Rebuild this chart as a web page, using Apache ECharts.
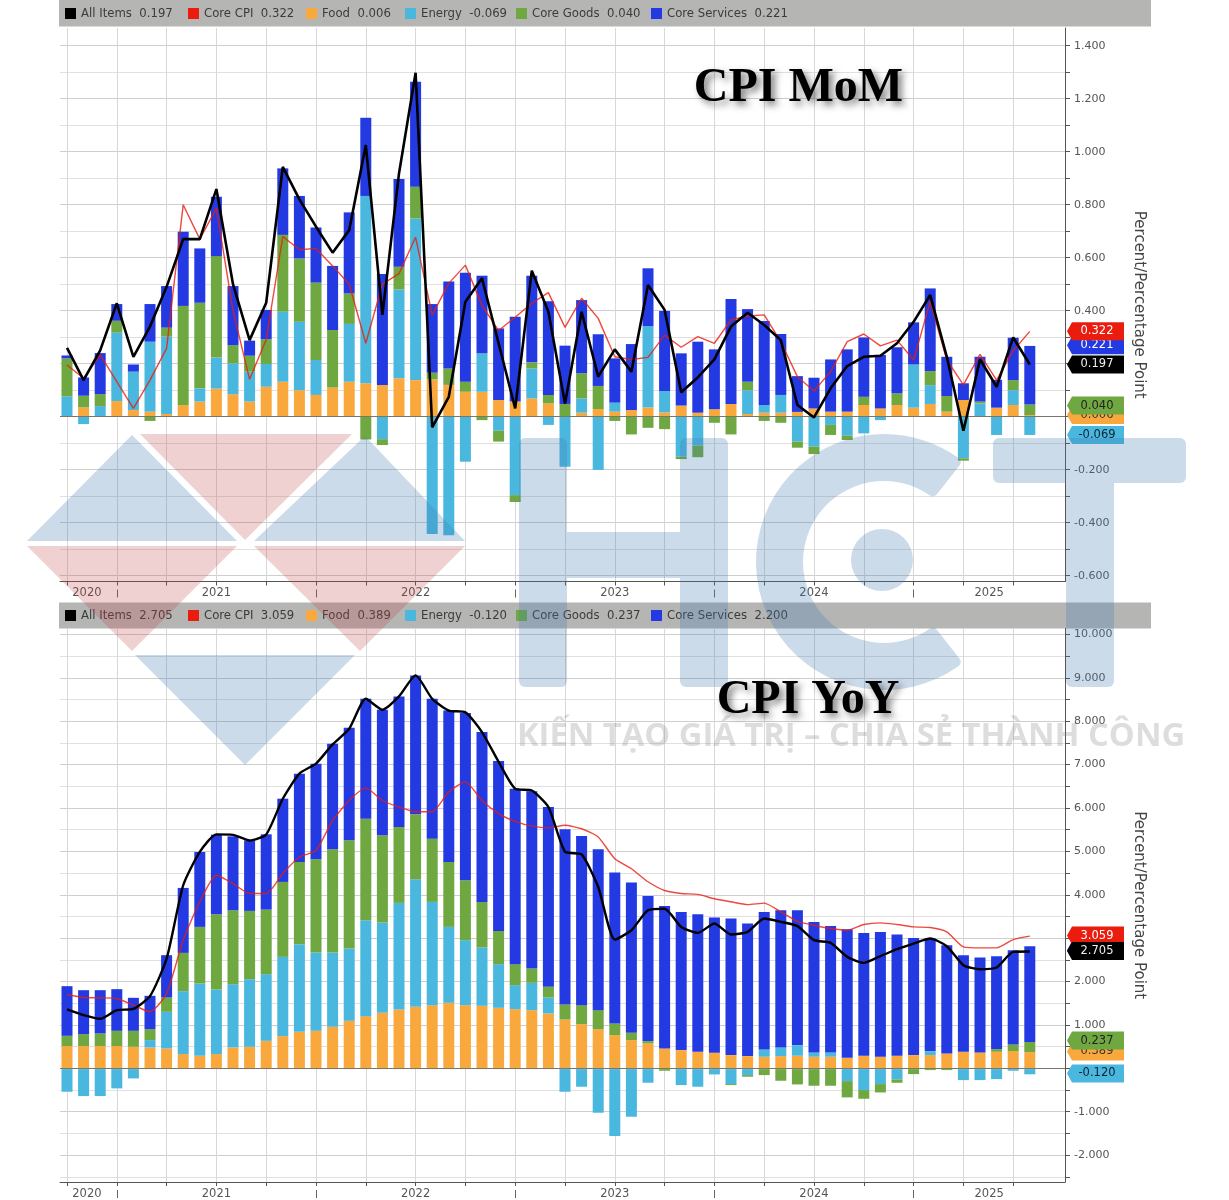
<!DOCTYPE html>
<html><head><meta charset="utf-8">
<style>html,body{margin:0;padding:0;background:#fff}#c{width:1229px;height:1200px;filter:blur(0.45px)}</style>
<script src="https://cdn.jsdelivr.net/npm/echarts@6/dist/echarts.min.js"></script>
</head><body><div id="c"></div>
<script>
const seriesNames=['All Items','Core CPI','Food','Energy','Core Goods','Core Services'];
const colors={'All Items':'#000000','Core CPI':'#ea1c0e','Food':'#f9a83e','Energy':'#4ab7df','Core Goods':'#6fa841','Core Services':'#2339e2'};
const momLegend=['0.197','0.322','0.006','-0.069','0.040','0.221'];
const yoyLegend=['2.705','3.059','0.389','-0.120','0.237','2.200'];
const legendLefts=[65,188,306,405,516,651];
const yearLabels=['2020','2021','2022','2023','2024','2025'];
const yearLabelAt=[1.2,9,21,33,45,55.55];
const yearBounds=[3,15,27,39,51];
const quarterTicks=[0,3,6,9,12,15,18,21,24,27,30,33,36,39,42,45,48,51,54,57];
const months=['m0','m1','m2','m3','m4','m5','m6','m7','m8','m9','m10','m11','m12','m13','m14','m15','m16','m17','m18','m19','m20','m21','m22','m23','m24','m25','m26','m27','m28','m29','m30','m31','m32','m33','m34','m35','m36','m37','m38','m39','m40','m41','m42','m43','m44','m45','m46','m47','m48','m49','m50','m51','m52','m53','m54','m55','m56','m57','m58','blank'];

const momFood=[0.002,0.035,0,0.059,0.025,0.019,0.01,0.044,0.057,0.106,0.085,0.057,0.113,0.132,0.10,0.082,0.11,0.132,0.126,0.12,0.145,0.138,0.141,0.12,0.094,0.094,0.063,0.057,0.069,0.05,0,0.015,0.029,0.019,0.025,0.035,0.016,0.042,0.015,0.028,0.048,0.01,0.015,0.015,0.018,0.031,0.019,0.019,0.044,0.031,0.044,0.034,0.048,0.019,0.063,0,0.034,0.044,0.006];
const momEnergy=[0.075,-0.028,0.04,0.258,0.145,0.264,0.292,0,0.05,0.117,0.116,0.113,0.086,0.264,0.258,0.132,0,0.218,0.707,-0.085,0.335,0.61,-0.443,-0.447,-0.17,0.145,-0.053,-0.296,0.113,-0.031,-0.189,0.054,-0.201,0.034,0,0.307,0.081,-0.151,-0.109,0,0,0.09,0.029,0.067,-0.094,-0.113,-0.031,-0.072,-0.063,-0.013,0,0.163,0.071,0,-0.157,0.05,-0.069,0.056,-0.069];
const momGoods=[0.143,0.044,0.045,0.045,0,-0.016,0.034,0.374,0.323,0.383,0.069,0.06,0.093,0.29,0.239,0.292,0.217,0.115,-0.086,-0.022,0.086,0.12,0.025,0.062,0.038,-0.013,-0.041,-0.026,0.023,0.032,0.048,0.095,0.087,-0.016,-0.067,-0.042,-0.047,-0.009,-0.044,-0.023,-0.067,0.032,-0.016,-0.023,-0.023,-0.028,-0.038,-0.016,0.031,0,0.044,0,0.053,0.059,-0.009,0.007,0,0.038,0.04];
const momServices=[0.011,0.069,0.155,0.063,0.027,0.142,0.157,0.28,0.205,0.224,0.223,0.057,0.111,0.251,0.236,0.208,0.242,0.306,0.295,0.418,0.331,0.396,0.259,0.328,0.411,0.293,0.27,0.32,0.327,0.354,0.22,0.276,0.195,0.167,0.249,0.218,0.302,0.197,0.268,0.226,0.396,0.274,0.317,0.23,0.135,0.116,0.197,0.235,0.224,0.202,0.174,0.159,0.312,0.148,0.063,0.169,0.105,0.16,0.221];
const momAll=[0.26,0.138,0.25,0.428,0.226,0.34,0.49,0.67,0.67,0.859,0.5,0.289,0.43,0.943,0.82,0.717,0.619,0.704,1.025,0.384,0.918,1.298,-0.04,0.075,0.434,0.522,0.277,0.031,0.551,0.396,0.05,0.396,0.151,0.254,0.17,0.497,0.403,0.092,0.148,0.216,0.34,0.392,0.346,0.289,0.044,-0.003,0.107,0.191,0.226,0.23,0.277,0.358,0.459,0.226,-0.053,0.216,0.113,0.299,0.197];
const momCore=[0.195,0.145,0.233,0.132,0.031,0.138,0.258,0.80,0.67,0.786,0.40,0.141,0.29,0.68,0.63,0.635,0.569,0.50,0.277,0.50,0.54,0.677,0.384,0.503,0.572,0.42,0.325,0.375,0.428,0.468,0.337,0.447,0.371,0.226,0.216,0.224,0.308,0.262,0.302,0.277,0.365,0.38,0.384,0.283,0.151,0.097,0.17,0.283,0.312,0.267,0.289,0.214,0.434,0.214,0.12,0.235,0.138,0.249,0.322];

const yoyFood=[0.529,0.529,0.529,0.529,0.513,0.498,0.475,0.345,0.307,0.345,0.498,0.513,0.651,0.759,0.858,0.881,0.973,1.111,1.218,1.295,1.372,1.433,1.471,1.525,1.471,1.456,1.41,1.379,1.356,1.28,1.142,1.034,0.92,0.782,0.667,0.59,0.475,0.437,0.398,0.375,0.322,0.299,0.284,0.299,0.307,0.284,0.284,0.26,0.307,0.284,0.307,0.322,0.322,0.36,0.398,0.383,0.398,0.414,0.389];
const yoyEnergy=[-0.521,-0.621,-0.621,-0.444,-0.215,0.169,0.843,1.448,1.662,1.486,1.456,1.556,1.533,1.823,2.016,1.801,1.709,1.663,2.207,2.077,2.452,2.935,2.376,1.747,1.495,1.341,1.004,0.552,0.629,0.368,-0.521,-0.406,-1.004,-1.54,-1.096,-0.314,0,-0.368,-0.406,-0.123,-0.345,-0.138,0.168,0.199,0.245,0.099,0.099,-0.276,-0.483,-0.345,-0.238,0,0.092,0,-0.253,-0.253,-0.23,-0.038,-0.12];
const yoyGoods=[0.237,0.276,0.291,0.352,0.368,0.253,0.329,0.881,1.303,1.732,1.701,1.571,1.486,1.725,1.892,2.146,2.375,2.49,2.337,2.007,1.747,1.494,1.456,1.494,1.379,1.05,0.766,0.483,0.329,0.245,0.345,0.437,0.436,0.268,0.168,0.054,-0.038,0,0,0,-0.023,-0.038,-0.138,-0.268,-0.353,-0.383,-0.383,-0.375,-0.199,-0.192,-0.077,-0.115,-0.023,-0.023,0,0,0.062,0.153,0.237];
const yoyServices=[1.142,1.011,0.996,0.958,0.759,0.766,0.974,1.495,1.724,1.832,1.701,1.624,1.732,1.915,2.031,2.199,2.43,2.59,2.759,2.889,3.004,3.195,3.218,3.487,3.847,3.908,3.908,4.038,4.077,4.137,4.03,3.893,3.701,3.471,3.456,3.341,3.28,3.18,3.165,3.112,3.142,3.05,3.165,3.157,3.103,3.004,2.912,2.958,2.827,2.873,2.789,2.697,2.59,2.491,2.223,2.184,2.138,2.169,2.2];
const yoyAll=[1.372,1.241,1.157,1.356,1.387,1.678,2.54,4.23,5.0,5.4,5.39,5.26,5.40,6.22,6.8,7.03,7.47,7.83,8.52,8.27,8.575,9.06,8.52,8.25,8.21,7.755,7.07,6.45,6.41,6.03,5.0,4.94,4.19,2.98,3.195,3.655,3.69,3.27,3.134,3.349,3.096,3.157,3.464,3.387,3.29,2.966,2.904,2.582,2.444,2.598,2.759,2.889,3.004,2.828,2.391,2.299,2.337,2.697,2.705];
const yoyCore=[1.716,1.648,1.64,1.625,1.471,1.318,1.74,2.97,3.85,4.46,4.27,4.04,4.04,4.5,4.88,5.03,5.72,6.18,6.47,6.18,6.03,5.92,5.92,6.38,6.61,6.18,5.88,5.70,5.59,5.55,5.61,5.53,5.34,4.84,4.61,4.31,4.11,4.04,4.02,3.92,3.85,3.785,3.82,3.62,3.4,3.31,3.234,3.195,3.326,3.364,3.326,3.272,3.257,3.157,2.812,2.789,2.789,2.98,3.059];

const momTickTenths=[-6,-5,-4,-3,-2,-1,0,1,2,3,4,5,6,7,8,9,10,11,12,13,14];
const momLabelTenths=[-6,-4,-2,2,4,6,8,10,12,14];
const yoyTickHalves=[-5,-4,-3,-2,-1,0,1,2,3,4,5,6,7,8,9,10,11,12,13,14,15,16,17,18,19,20];
const yoyLabelUnits=[-2,-1,1,2,3,4,5,6,7,8,9,10];

const tagOrder=['Food','Core Goods','Energy','Core Services','Core CPI','All Items'];
const momTagText=['0.006','0.040','-0.069','0.221','0.322','0.197'];
const momTagAt=[0.006,0.042,-0.069,0.270,0.322,0.197];
const yoyTagText=['0.389','0.237','-0.120','2.200','3.059','2.705'];
const yoyTagAt=[0.389,0.64,-0.12,2.72,3.059,2.705];
const tagInk=['#333','#222','#123','#fff','#fff','#eee'];

const X_MIN=-0.42, X_MAX=60.12;
const GRID_LINE='#d8d8d8', TEXT='#555', FONT='"DejaVu Sans",sans-serif';

function barSeries(name,data,gi){
  return {name,type:'bar',xAxisIndex:4+gi,yAxisIndex:2+gi,stack:'s'+gi,barWidth:11,
    itemStyle:{color:colors[name]},data,animation:false,z:2};
}
function lineSeries(name,data,gi,smooth,width){
  return {name,type:'line',xAxisIndex:4+gi,yAxisIndex:2+gi,data,symbol:'none',smooth,
    lineStyle:{color:colors[name],width,opacity:name==='Core CPI'?0.8:1},itemStyle:{color:colors[name]},animation:false,z:name==='Core CPI'?4:5};
}
function tagSeries(gi,text,at){
  return {type:'custom',name:'tags'+gi,xAxisIndex:gi*2,yAxisIndex:gi,clip:false,z:6,animation:false,silent:true,
    data:at.map((v,i)=>[X_MAX,v,i]),encode:{x:0,y:1},
    markLine:{silent:true,symbol:'none',animation:false,label:{show:false},data:[{yAxis:0}],lineStyle:{color:'#77776c',width:1,type:'solid'}},
    renderItem(p,api){
      const i=api.value(2),pt=api.coord([api.value(0),api.value(1)]);
      const x0=pt[0],c=pt[1],col=colors[tagOrder[i]];
      return {type:'group',children:[
        {type:'polygon',shape:{points:[[x0+2,c],[x0+7,c-9],[x0+59,c-9],[x0+59,c+9],[x0+7,c+9]]},style:{fill:col}},
        {type:'text',style:{text:text[i],x:x0+32,y:c,fill:tagInk[i],font:'11.5px '+FONT,align:'center',verticalAlign:'middle'}}
      ]};
    }};
}
function xAxes(gi){
  return [
    {type:'value',gridIndex:gi,min:X_MIN,max:X_MAX,position:'bottom',
     axisLine:{show:true,onZero:false,lineStyle:{color:'#555',width:1}},
     axisTick:{show:true,length:4,customValues:quarterTicks,lineStyle:{color:'#555'}},
     axisLabel:{customValues:yearLabelAt,margin:6,color:TEXT,fontFamily:FONT,fontSize:11.5,
       formatter:v=>yearLabels[yearLabelAt.indexOf(v)]},
     splitLine:{show:true,lineStyle:{color:GRID_LINE,width:1}}},
    {type:'value',gridIndex:gi,min:X_MIN,max:X_MAX,position:'bottom',offset:8,
     axisLine:{show:false,onZero:false},axisLabel:{show:false},splitLine:{show:false},
     axisTick:{show:true,length:8,customValues:yearBounds,lineStyle:{color:'#666'}}}
  ];
}
const barAxis=gi=>({type:'category',gridIndex:gi,data:months,show:false,boundaryGap:true});
const hiddenY=(gi,min,max)=>({type:'value',gridIndex:gi,min,max,show:false,splitLine:{show:false}});
function yAxis(gi,min,max,ticks,labels,lineColors){
  return {type:'value',gridIndex:gi,position:'right',min,max,
    name:'Percent/Percentage Point',nameLocation:'middle',nameRotate:-90,nameGap:66,
    nameTextStyle:{color:'#444',fontFamily:FONT,fontSize:15},
    axisLine:{show:true,onZero:false,lineStyle:{color:'#555',width:1}},
    axisTick:{show:true,length:5,customValues:ticks,lineStyle:{color:'#555'}},
    axisLabel:{customValues:labels,margin:9,color:TEXT,fontFamily:FONT,fontSize:11,formatter:v=>v.toFixed(3)},
    splitLine:{show:true,lineStyle:{color:lineColors,width:1.2}}};
}
function legends(values,top){
  return seriesNames.map((name,i)=>({left:legendLefts[i],top,padding:0,itemWidth:11,itemHeight:11,icon:'rect',selectedMode:false,
    data:[name],textStyle:{color:'#3c3c3c',fontFamily:FONT,fontSize:11.7},
    formatter:n=>n+'  '+values[seriesNames.indexOf(n)]}));
}
function seriesFor(gi,food,energy,goods,services,all,core,smooth,w,cw,tagText,tagAt){
  return [
    barSeries('Food',food,gi),
    barSeries('Energy',energy,gi),
    barSeries('Core Goods',goods,gi),
    barSeries('Core Services',services,gi),
    lineSeries('Core CPI',core,gi,smooth,cw),
    lineSeries('All Items',all,gi,smooth,w),
    tagSeries(gi,tagText,tagAt)
  ];
}
const WM_BLUE='rgba(70,125,180,0.275)', WM_PINK='rgba(190,70,70,0.25)';
const tri=(pts,fill)=>({type:'polygon',z:50,silent:true,shape:{points:pts},style:{fill}});
const box=(x,y,w,h,r)=>({type:'rect',z:50,silent:true,shape:{x,y,width:w,height:h,r:r||0},style:{fill:WM_BLUE}});
const title=(t,cx,cy)=>({type:'text',z:60,silent:true,x:cx,y:cy,style:{text:t,font:'bold 48px "Liberation Serif",serif',fill:'#000',align:'center',verticalAlign:'middle',
  shadowColor:'rgba(0,0,0,0.5)',shadowBlur:7,shadowOffsetX:4,shadowOffsetY:4,textShadowColor:'rgba(0,0,0,0.5)',textShadowBlur:7,textShadowOffsetX:4,textShadowOffsetY:4}});

const graphicEls=[
  {type:'rect',z:0,silent:true,shape:{x:59,y:0,width:1092,height:26.5},style:{fill:'#b5b5b4'}},
  {type:'rect',z:0,silent:true,shape:{x:59,y:602.5,width:1092,height:26},style:{fill:'#b5b5b4'}},
  tri([[132,435],[27,541],[237,541]],WM_BLUE),
  tri([[365,436],[254,541],[465,541]],WM_BLUE),
  tri([[140,434],[352,434],[245,540]],WM_PINK),
  tri([[27,546],[237,546],[132,651]],WM_PINK),
  tri([[254,546],[465,546],[360,651]],WM_PINK),
  tri([[135,655],[355,655],[245,765]],WM_BLUE),
  box(519,438,48,249,6),box(680,438,48,249,6),box(567,532,113,46),
  {type:'sector',z:50,silent:true,shape:{cx:884,cy:562,r:128,r0:81,startAngle:52*Math.PI/180,endAngle:308*Math.PI/180,clockwise:true,cornerRadius:5},style:{fill:WM_BLUE}},
  {type:'circle',z:50,silent:true,shape:{cx:882,cy:560,r:31},style:{fill:WM_BLUE}},
  box(993,438,193,45,6),box(1066,483,48,204,[0,0,6,6]),
  {type:'text',z:51,silent:true,x:851,y:737,style:{text:'KIẾN TẠO GIÁ TRỊ – CHIA SẺ THÀNH CÔNG',font:'bold 32.7px "Open Sans",sans-serif',fill:'rgba(120,120,120,0.25)',align:'center',verticalAlign:'middle'}},
  title('CPI MoM',798.5,89),title('CPI YoY',808,701)
];

const chart=echarts.init(document.getElementById('c'),null,{renderer:'canvas'});
const MOM=[-0.622,1.4668], YOY=[-2.621,10.138];
chart.setOption({
  animation:false,backgroundColor:'#fff',
  grid:[
    {left:60,top:28,width:1005,height:553.5},
    {left:60,top:628.5,width:1005,height:554.5},
    {left:58.7,top:28,width:996,height:553.5},
    {left:58.7,top:628.5,width:996,height:554.5}
  ],
  xAxis:[...xAxes(0),...xAxes(1),barAxis(2),barAxis(3)],
  yAxis:[
    yAxis(0,MOM[0],MOM[1],momTickTenths.map(t=>t/10),momLabelTenths.map(t=>t/10),['#cecece','#e0e0e0']),
    yAxis(1,YOY[0],YOY[1],yoyTickHalves.map(t=>t/2),yoyLabelUnits,['#e0e0e0','#cecece']),
    hiddenY(2,MOM[0],MOM[1]),
    hiddenY(3,YOY[0],YOY[1])
  ],
  legend:[...legends(momLegend,7.5),...legends(yoyLegend,609.5)],
  graphic:{elements:graphicEls},
  series:[
    ...seriesFor(0,momFood,momEnergy,momGoods,momServices,momAll,momCore,false,2.6,1.4,momTagText,momTagAt),
    ...seriesFor(1,yoyFood,yoyEnergy,yoyGoods,yoyServices,yoyAll,yoyCore,0.2,2.4,1.4,yoyTagText,yoyTagAt)
  ]
});
</script></body></html>
